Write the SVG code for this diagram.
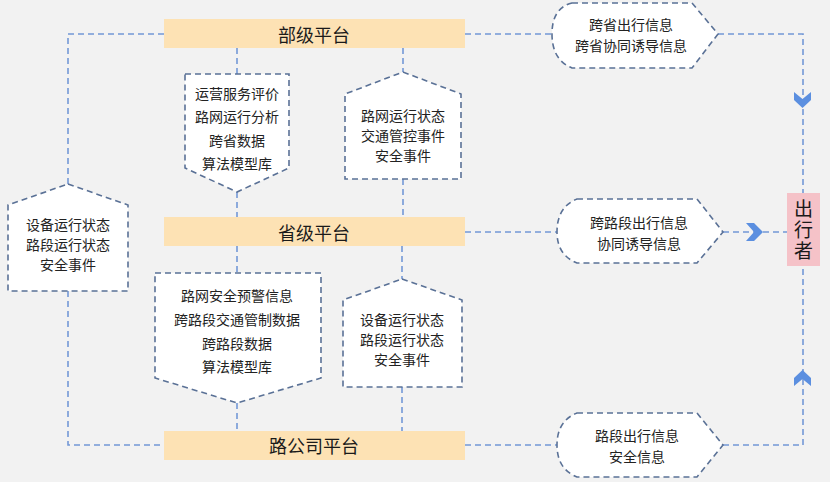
<svg xmlns="http://www.w3.org/2000/svg" width="830" height="482" viewBox="0 0 830 482">
<defs>
<style>
.bg{fill:#f2f2f2}
.bar{fill:#fde2b4}
.bt{font-family:"Noto Sans CJK SC","Noto Sans",sans-serif;font-size:18px;fill:#1a1a1a;text-anchor:middle;dominant-baseline:central}
.nt{font-family:"Noto Sans CJK SC","Noto Sans",sans-serif;font-size:14px;fill:#222;text-anchor:middle;dominant-baseline:central}
.node{fill:#ffffff;stroke:#5a7196;stroke-width:1.6;stroke-dasharray:6 4}
.conn{fill:none;stroke:#7398d6;stroke-width:1.6;stroke-dasharray:6 4}
.arr{fill:#5b8fe0}
.trav{fill:#f5c2c8}
.tt{font-family:"Noto Sans CJK SC","Noto Sans",sans-serif;font-size:19px;fill:#1a1a1a;text-anchor:middle;writing-mode:vertical-rl;letter-spacing:2px}
</style>
</defs>
<rect class="bg" x="0" y="0" width="830" height="482"/>

<g id="connectors">
<path class="conn" d="M164,34 H68 V184"/>
<path class="conn" d="M68,291 V445 H164"/>
<path class="conn" d="M237,48 V74"/>
<path class="conn" d="M237,192 V217"/>
<path class="conn" d="M403,48 V72"/>
<path class="conn" d="M403,179 V217"/>
<path class="conn" d="M237,246 V273"/>
<path class="conn" d="M237,403 V431"/>
<path class="conn" d="M402,246 V279"/>
<path class="conn" d="M402,387 V431"/>
<path class="conn" d="M465,34 H552"/>
<path class="conn" d="M718,34 H803 V193"/>
<path class="conn" d="M465,232 H557"/>
<path class="conn" d="M723,232 H787"/>
<path class="conn" d="M465,445 H557"/>
<path class="conn" d="M723,445 H803 V266"/>
<path class="arr" d="M794,92 L802.5,99 L811,92 L811,100 L802.5,108 L794,100 Z"/>
<path class="arr" d="M746,223 L754,232 L746,241 L754,241 L763,232 L754,223 Z"/>
<path class="arr" d="M794,386 L802.5,379 L811,386 L811,378 L802.5,370 L794,378 Z"/>
</g>

<g id="bu">
<rect class="bar" x="164" y="19" width="301" height="29"/>
<text class="bt" x="314" y="34">部级平台</text>
</g>
<g id="sheng">
<rect class="bar" x="164" y="217" width="301" height="29"/>
<text class="bt" x="314" y="232">省级平台</text>
</g>
<g id="lugongsi">
<rect class="bar" x="164" y="431" width="301" height="29"/>
<text class="bt" x="314" y="445">路公司平台</text>
</g>

<g id="n-left">
<path class="node" d="M68,184 L128,205 L128,291 L8,291 L8,205 Z"/>
<text class="nt" x="68" y="224">设备运行状态</text>
<text class="nt" x="68" y="244">路段运行状态</text>
<text class="nt" x="68" y="264">安全事件</text>
</g>

<g id="n-yunying">
<path class="node" d="M185,74 L289,74 L289,168 L237,192 L185,168 Z"/>
<text class="nt" x="237" y="93">运营服务评价</text>
<text class="nt" x="237" y="116">路网运行分析</text>
<text class="nt" x="237" y="140">跨省数据</text>
<text class="nt" x="237" y="163">算法模型库</text>
</g>

<g id="n-luwang">
<path class="node" d="M403,72 L461,94 L461,179 L345,179 L345,94 Z"/>
<text class="nt" x="403" y="115">路网运行状态</text>
<text class="nt" x="403" y="135">交通管控事件</text>
<text class="nt" x="403" y="155">安全事件</text>
</g>

<g id="n-yujing">
<path class="node" d="M155,273 L321,273 L321,378 L237,403 L155,378 Z"/>
<text class="nt" x="237" y="295">路网安全预警信息</text>
<text class="nt" x="237" y="319">跨路段交通管制数据</text>
<text class="nt" x="237" y="343">跨路段数据</text>
<text class="nt" x="237" y="366">算法模型库</text>
</g>

<g id="n-shebei2">
<path class="node" d="M402,279 L462,300 L462,387 L343,387 L343,300 Z"/>
<text class="nt" x="402" y="319">设备运行状态</text>
<text class="nt" x="402" y="339">路段运行状态</text>
<text class="nt" x="402" y="359">安全事件</text>
</g>

<g id="h-kuasheng">
<path class="node" d="M572,3 L692,3 L718,34 L692,68 L572,68 Q552,60 552,34 Q552,8 572,3 Z"/>
<text class="nt" x="631" y="24">跨省出行信息</text>
<text class="nt" x="631" y="45">跨省协同诱导信息</text>
</g>

<g id="h-kualuduan">
<path class="node" d="M577,199 L697,199 L723,232 L697,263 L577,263 Q557,255 557,232 Q557,207 577,199 Z"/>
<text class="nt" x="639" y="222">跨路段出行信息</text>
<text class="nt" x="639" y="243">协同诱导信息</text>
</g>

<g id="h-luduan">
<path class="node" d="M577,413 L697,413 L723,445 L697,477 L577,477 Q557,469 557,445 Q557,421 577,413 Z"/>
<text class="nt" x="637" y="435">路段出行信息</text>
<text class="nt" x="637" y="456">安全信息</text>
</g>

<g id="traveler">
<rect class="trav" x="787" y="193" width="33" height="73"/>
<text class="tt" x="803.5" y="231">出行者</text>
</g>
</svg>
